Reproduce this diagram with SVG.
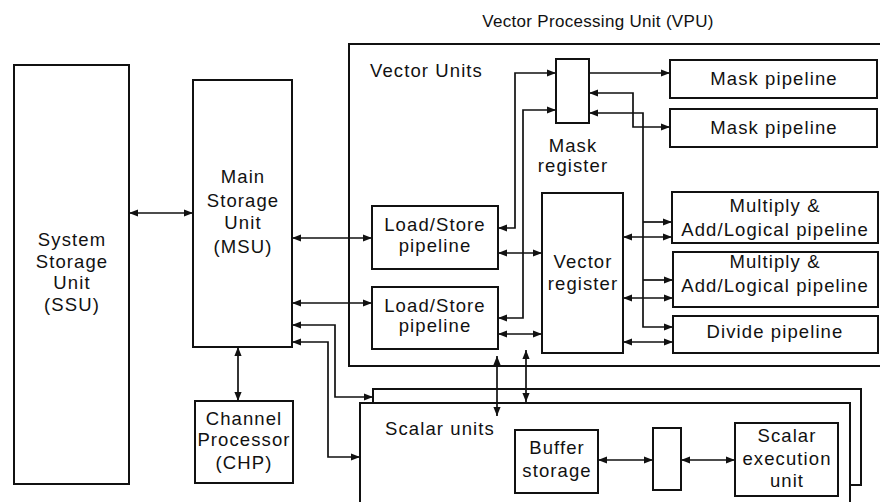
<svg xmlns="http://www.w3.org/2000/svg" width="880" height="502" viewBox="0 0 880 502">
<style>
.box{fill:#fff;stroke:#111;stroke-width:2}
.frame{fill:none;stroke:#111;stroke-width:2}
.t{font-family:"Liberation Sans",Arial,Helvetica,sans-serif;font-size:18.5px;letter-spacing:1.1px;fill:#111;text-anchor:middle}
.l{text-anchor:start}
.c{fill:none;stroke:#111;stroke-width:1.7}
.b{marker-start:url(#ah);marker-end:url(#ah)}
.e{marker-end:url(#ah)}
</style>
<defs>
<marker id="ah" viewBox="0 0 10 10" refX="10" refY="5" markerWidth="10" markerHeight="9" markerUnits="userSpaceOnUse" orient="auto-start-reverse">
<path d="M0,1 L10,5 L0,9 z" fill="#111"/>
</marker>
</defs>
<rect width="880" height="502" fill="#fff"/>

<g id="vpu">
<rect class="frame" x="349" y="44" width="540" height="322"/>
<text class="t" x="598" y="27" style="font-size:17px;letter-spacing:0.3px">Vector Processing Unit (VPU)</text>
<text class="t l" x="370" y="77">Vector Units</text>
</g>

<g id="scalar-units">
<path class="frame" d="M373,403 V389 H861 V485 H850"/>
<rect class="frame" x="360" y="403" width="490" height="110"/>
<text class="t l" x="385" y="435">Scalar units</text>
</g>

<g id="ssu">
<rect class="box" x="14" y="65" width="115" height="419"/>
<text class="t" x="72" y="246">System</text>
<text class="t" x="72" y="268">Storage</text>
<text class="t" x="72" y="289">Unit</text>
<text class="t" x="72" y="311">(SSU)</text>
</g>

<g id="msu">
<rect class="box" x="193" y="80" width="99" height="267"/>
<text class="t" x="243" y="183">Main</text>
<text class="t" x="243" y="207">Storage</text>
<text class="t" x="243" y="229">Unit</text>
<text class="t" x="243" y="253">(MSU)</text>
</g>

<g id="chp">
<rect class="box" x="195" y="401" width="98" height="82"/>
<text class="t" x="244" y="425">Channel</text>
<text class="t" x="244" y="446">Processor</text>
<text class="t" x="244" y="469">(CHP)</text>
</g>

<g id="ls1">
<rect class="box" x="372" y="206" width="126" height="63"/>
<text class="t" x="435" y="231">Load/Store</text>
<text class="t" x="435" y="252">pipeline</text>
</g>

<g id="ls2">
<rect class="box" x="372" y="287" width="126" height="62"/>
<text class="t" x="435" y="312">Load/Store</text>
<text class="t" x="435" y="332">pipeline</text>
</g>

<g id="mask-register">
<rect class="box" x="556" y="59" width="33" height="64"/>
<text class="t" x="573" y="152">Mask</text>
<text class="t" x="573" y="172">register</text>
</g>

<g id="vector-register">
<rect class="box" x="542" y="193" width="81" height="160"/>
<text class="t" x="583" y="268">Vector</text>
<text class="t" x="583" y="290">register</text>
</g>

<g id="mask-pipe-1">
<rect class="box" x="670" y="60" width="207" height="38"/>
<text class="t" x="774" y="85">Mask pipeline</text>
</g>

<g id="mask-pipe-2">
<rect class="box" x="670" y="109" width="207" height="38"/>
<text class="t" x="774" y="134">Mask pipeline</text>
</g>

<g id="mul-1">
<rect class="box" x="672" y="192" width="206" height="51"/>
<text class="t" x="775" y="212">Multiply &amp;</text>
<text class="t" x="775" y="236">Add/Logical pipeline</text>
</g>

<g id="mul-2">
<rect class="box" x="673" y="252" width="205" height="55"/>
<text class="t" x="775" y="268">Multiply &amp;</text>
<text class="t" x="775" y="292">Add/Logical pipeline</text>
</g>

<g id="divide">
<rect class="box" x="673" y="316" width="205" height="37"/>
<text class="t" x="775" y="338">Divide pipeline</text>
</g>

<g id="buffer">
<rect class="box" x="515" y="430" width="83" height="63"/>
<text class="t" x="557" y="454">Buffer</text>
<text class="t" x="557" y="477">storage</text>
</g>

<g id="scalar-reg">
<rect class="box" x="653" y="428" width="28" height="62"/>
</g>

<g id="scalar-exec">
<rect class="box" x="735" y="423" width="103" height="73"/>
<text class="t" x="787" y="442">Scalar</text>
<text class="t" x="787" y="465">execution</text>
<text class="t" x="787" y="487">unit</text>
</g>

<g id="connectors">
<path class="c b" d="M129,213 H193"/>
<path class="c b" d="M292,238 H372"/>
<path class="c b" d="M292,303 H372"/>
<path class="c b" d="M238,347 V401"/>
<path class="c b" d="M373,397 H335 V325 H292"/>
<path class="c b" d="M360,457 H328 V342 H292"/>
<path class="c b" d="M498,228 H515 V73 H556"/>
<path class="c b" d="M498,318 H523 V110 H556"/>
<path class="c b" d="M498,253 H542"/>
<path class="c b" d="M498,334 H542"/>
<path class="c e" d="M589,73 H670"/>
<path class="c b" d="M589,93 H633 V127 H670"/>
<path class="c b" d="M589,113 H643 V327 H673"/>
<path class="c e" d="M643,222 H672"/>
<path class="c e" d="M643,280 H673"/>
<path class="c b" d="M623,237 H672"/>
<path class="c b" d="M623,298 H673"/>
<path class="c b" d="M623,342 H673"/>
<path class="c b" d="M497,356 V416"/>
<path class="c b" d="M526,350 V402"/>
<path class="c b" d="M598,460 H653"/>
<path class="c b" d="M681,460 H735"/>
</g>
</svg>
